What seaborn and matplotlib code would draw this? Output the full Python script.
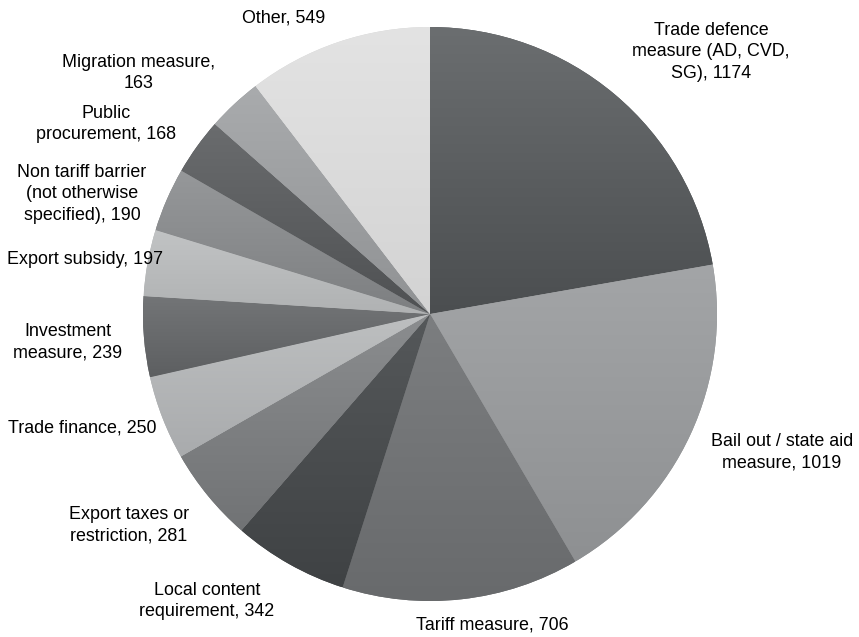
import numpy as np
import seaborn as sns
import matplotlib.pyplot as plt
from matplotlib.colors import to_rgb

sns.set_theme(style="white")
plt.rcParams['font.family'] = ['Liberation Sans', 'DejaVu Sans']

# data
labels = ["Trade defence\nmeasure (AD, CVD,\nSG), 1174", "Bail out / state aid\nmeasure, 1019",
          "Tariff measure, 706", "Local content\nrequirement, 342", "Export taxes or\nrestriction, 281",
          "Trade finance, 250", "Investment\nmeasure, 239", "Export subsidy, 197",
          "Non tariff barrier\n(not otherwise\nspecified), 190", "Public\nprocurement, 168",
          "Migration measure,\n163", "Other, 549"]
values = [1174, 1019, 706, 342, 281, 250, 239, 197, 190, 168, 163, 549]

# gradient colours per slice (top, bottom)
top_colors = ["#6b6e70", "#a3a5a7", "#7c7e80", "#55585a", "#8b8d8f", "#bdbfc0",
              "#737577", "#c1c3c4", "#96989a", "#6a6c6e", "#a9abad", "#e3e3e3"]
bottom_colors = ["#4b4e50", "#8e9092", "#686a6c", "#3f4244", "#717375", "#a9abad",
                 "#5d5f61", "#b0b2b3", "#7d7f81", "#4f5153", "#909294", "#d3d3d3"]

# label positions in pixels (x, y from top)
label_pos = [(711, 52), (782, 452), (492, 625), (207, 601), (129, 525), (82, 428),
             (68, 342), (85, 260), (82, 194), (106, 124), (139, 73), (284, 18)]

W, H = 859, 637
fig = plt.figure(figsize=(W / 100, H / 100), dpi=100)
ax = fig.add_axes([0, 0, 1, 1])

wedges, _ = ax.pie(values, startangle=90, counterclock=False, center=(430, H - 314), radius=287,
                   colors=bottom_colors, wedgeprops=dict(linewidth=0))

for w, c0, c1 in zip(wedges, top_colors, bottom_colors):
    ext = w.get_path().get_extents()
    grad = np.linspace(0, 1, 256)[:, None, None]
    img = (1 - grad) * np.array(to_rgb(c0)) + grad * np.array(to_rgb(c1))
    im = ax.imshow(img, extent=[ext.x0, ext.x1, ext.y0, ext.y1], origin='upper',
                   aspect='auto', interpolation='bilinear', zorder=2)
    im.set_clip_path(w)

for lab, (x, y) in zip(labels, label_pos):
    ax.text(x, H - y, lab, ha='center', va='center', fontsize=12.9, color='#000000',
            linespacing=1.34)

ax.set_xlim(0, W)
ax.set_ylim(0, H)
ax.set_aspect('auto')
ax.axis('off')

plt.savefig('out.png', dpi=100)
